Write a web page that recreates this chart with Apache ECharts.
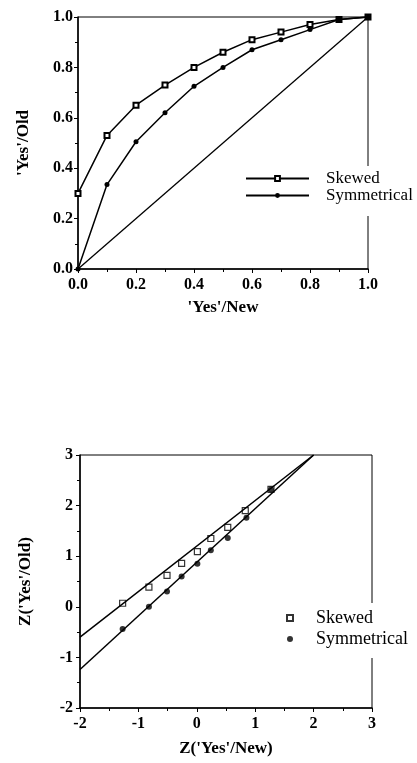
<!DOCTYPE html>
<html>
<head>
<meta charset="utf-8">
<script src="https://cdn.jsdelivr.net/npm/echarts@6/dist/echarts.min.js"></script>
<style>
  html, body { margin: 0; padding: 0; background: #fff; }
  #chart { width: 417px; height: 763px; }
</style>
</head>
<body>
<div id="chart"></div>
<script>
// proportion 'Yes' on new vs old item
const yesNew = [0, 0.1, 0.2, 0.3, 0.4, 0.5, 0.6, 0.7, 0.8, 0.9, 1.0];
const skewedOld = [0.30, 0.53, 0.65, 0.73, 0.80, 0.86, 0.91, 0.94, 0.97, 0.99, 1.0];
const symmOld = [0.0, 0.335, 0.505, 0.62, 0.725, 0.80, 0.87, 0.91, 0.95, 0.99, 1.0];
const chanceLine = [[0, 0], [1, 1]];

// z-transformed points
const zNew = [-1.27, -0.82, -0.51, -0.26, 0.01, 0.24, 0.53, 0.83, 1.27];
const zSkewed = [0.07, 0.39, 0.62, 0.86, 1.09, 1.35, 1.57, 1.90, 2.32];
const zSymmNew = [-1.27, -0.82, -0.51, -0.26, 0.01, 0.24, 0.53, 0.85, 1.27];
const zSymm = [-0.44, 0.0, 0.30, 0.60, 0.85, 1.12, 1.36, 1.76, 2.32];
// fitted lines (end points)
const skewedFit = [[-2, -0.6], [2.0, 3.0]];
const symmFit = [[-2, -1.24], [2.0, 3.0]];

const pair = (xs, ys) => xs.map((x, i) => [x, ys[i]]);

const serif = 'Liberation Serif';
const labelStyle = { fontFamily: serif, fontWeight: 'bold', fontSize: 16, color: '#000' };
const nameStyle = { fontFamily: serif, fontWeight: 'bold', fontSize: 17, color: '#000' };

function axisBase(min, max, interval) {
  return {
    min: min, max: max, interval: interval,
    axisLine: { show: true, onZero: false, lineStyle: { color: '#000', width: 1.5 } },
    axisTick: { show: true, inside: false, length: 4, lineStyle: { color: '#000' } },
    minorTick: { show: true, splitNumber: 2, length: 3, lineStyle: { color: '#000' } },
    splitLine: { show: false },
    nameTextStyle: nameStyle,
    nameLocation: 'middle'
  };
}

const chart = echarts.init(document.getElementById('chart'));

chart.setOption({
  backgroundColor: '#fff',
  animation: false,
  grid: [
    { left: 78, top: 17, width: 290, height: 252, show: true, borderColor: '#000', borderWidth: 1 },
    { left: 80, top: 455, width: 292, height: 253, show: true, borderColor: '#000', borderWidth: 1 }
  ],
  xAxis: [
    Object.assign(axisBase(0, 1, 0.2), {
      type: 'value', gridIndex: 0, name: "'Yes'/New", nameGap: 30,
      axisLabel: Object.assign({ formatter: v => v.toFixed(1), margin: 8 }, labelStyle)
    }),
    Object.assign(axisBase(-2, 3, 1), {
      type: 'value', gridIndex: 1, name: "Z('Yes'/New)", nameGap: 32,
      axisLabel: Object.assign({ formatter: v => String(v), margin: 8 }, labelStyle)
    })
  ],
  yAxis: [
    Object.assign(axisBase(0, 1, 0.2), {
      type: 'value', gridIndex: 0, name: "'Yes'/Old", nameGap: 46,
      axisLabel: Object.assign({ formatter: v => v.toFixed(1), margin: 5 }, labelStyle)
    }),
    Object.assign(axisBase(-2, 3, 1), {
      type: 'value', gridIndex: 1, name: "Z('Yes'/Old)", nameGap: 46,
      axisLabel: Object.assign({ formatter: v => String(v), margin: 7 }, labelStyle)
    })
  ],
  legend: [
    {
      left: 243, top: 166, orient: 'vertical', itemGap: 0,
      itemWidth: 63, itemHeight: 6,
      backgroundColor: '#fff', padding: [4, 4, 12, 2], z: 10,
      textStyle: { fontFamily: serif, fontSize: 17, color: '#000', padding: [0, 0, 0, 12] },
      data: ['Skewed', 'Symmetrical']
    },
    {
      left: 284, top: 603, orient: 'vertical', itemGap: 3,
      itemWidth: 6, itemHeight: 6,
      backgroundColor: '#fff', padding: [6, 4, 10, 2], z: 10,
      textStyle: { fontFamily: serif, fontSize: 18, color: '#000', padding: [0, 0, 0, 18] },
      data: ['Skewed ', 'Symmetrical ']
    }
  ],
  series: [
    {
      name: 'chance', type: 'line', xAxisIndex: 0, yAxisIndex: 0,
      data: chanceLine, symbol: 'none', silent: true,
      lineStyle: { color: '#000', width: 1.3 }
    },
    {
      name: 'Skewed', type: 'line', xAxisIndex: 0, yAxisIndex: 0,
      data: pair(yesNew, skewedOld),
      symbol: 'emptyRect', symbolSize: 5,
      itemStyle: { color: '#000', borderWidth: 1.2 },
      lineStyle: { color: '#000', width: 1.5 }
    },
    {
      name: 'Symmetrical', type: 'line', xAxisIndex: 0, yAxisIndex: 0,
      data: pair(yesNew, symmOld),
      symbol: 'circle', symbolSize: 5,
      itemStyle: { color: '#000' },
      lineStyle: { color: '#000', width: 1.5 }
    },
    {
      name: 'skewedFit', type: 'line', xAxisIndex: 1, yAxisIndex: 1,
      data: skewedFit, symbol: 'none', silent: true,
      lineStyle: { color: '#000', width: 1.5 }
    },
    {
      name: 'symmFit', type: 'line', xAxisIndex: 1, yAxisIndex: 1,
      data: symmFit, symbol: 'none', silent: true,
      lineStyle: { color: '#000', width: 1.5 }
    },
    {
      name: 'Skewed ', type: 'scatter', xAxisIndex: 1, yAxisIndex: 1,
      data: pair(zNew, zSkewed),
      symbol: 'rect', symbolSize: 6,
      itemStyle: { color: '#fff', borderColor: '#000', borderWidth: 1.2 }
    },
    {
      name: 'Symmetrical ', type: 'scatter', xAxisIndex: 1, yAxisIndex: 1,
      data: pair(zSymmNew, zSymm),
      symbol: 'circle', symbolSize: 6,
      itemStyle: { color: '#000' }
    }
  ]
});
</script>
</body>
</html>
